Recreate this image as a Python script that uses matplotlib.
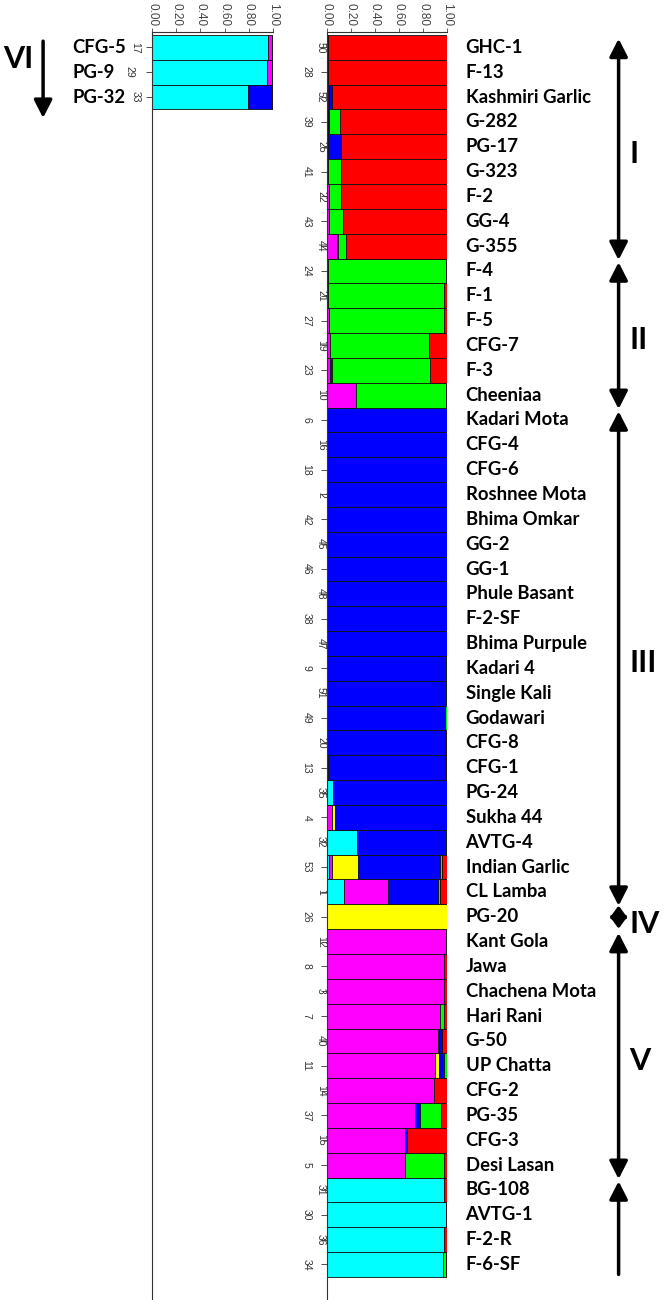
import matplotlib
matplotlib.use("Agg")
import matplotlib.pyplot as plt
import matplotlib.transforms as mtransforms

# cluster colours in STRUCTURE stacking order
CLUSTER_COLORS = ["#00FFFF", "#FF00FF", "#FFFF00", "#0000FF", "#00FF00", "#FF0000"]

# ---- right panel (50 accessions) ----
names_r = ["GHC-1", "F-13", "Kashmiri Garlic", "G-282", "PG-17", "G-323", "F-2", "GG-4", "G-355",
           "F-4", "F-1", "F-5", "CFG-7", "F-3", "Cheeniaa",
           "Kadari Mota", "CFG-4", "CFG-6", "Roshnee Mota", "Bhima Omkar", "GG-2", "GG-1",
           "Phule Basant", "F-2-SF", "Bhima Purpule", "Kadari 4", "Single Kali", "Godawari",
           "CFG-8", "CFG-1", "PG-24", "Sukha 44", "AVTG-4", "Indian Garlic", "CL Lamba",
           "PG-20",
           "Kant Gola", "Jawa", "Chachena Mota", "Hari Rani", "G-50", "UP Chatta", "CFG-2",
           "PG-35", "CFG-3", "Desi Lasan",
           "BG-108", "AVTG-1", "F-2-R", "F-6-SF"]
ids_r = [50, 28, 52, 39, 25, 41, 22, 43, 44,
         24, 21, 27, 19, 23, 10,
         6, 16, 18, 2, 42, 45, 46, 48, 38, 47, 9, 51, 49, 20, 13, 35, 4, 32, 53, 1,
         26,
         12, 8, 3, 7, 40, 11, 14, 37, 15, 5,
         31, 30, 36, 34]

cyan_r = [0, 0, 0.012, 0, 0, 0, 0, 0, 0,
          0, 0, 0, 0, 0, 0,
          0, 0, 0, 0, 0, 0, 0, 0, 0, 0, 0, 0, 0, 0, 0, 0.05, 0, 0.25, 0.017, 0.138,
          0,
          0, 0, 0, 0, 0, 0, 0, 0, 0, 0,
          0.978, 0.989, 0.978, 0.967]
magenta_r = [0.005, 0.005, 0.005, 0.01, 0.01, 0.008, 0.02, 0.02, 0.08,
             0.01, 0.005, 0.02, 0.027, 0.027, 0.243,
             0, 0, 0, 0, 0, 0, 0, 0, 0, 0, 0, 0, 0, 0, 0.008, 0, 0.044, 0, 0.023, 0.37,
             0,
             0.99, 0.978, 0.978, 0.94, 0.923, 0.90, 0.89, 0.735, 0.646, 0.652,
             0, 0, 0, 0]
yellow_r = [0, 0, 0, 0, 0, 0, 0, 0, 0,
            0, 0, 0, 0, 0, 0,
            0, 0, 0, 0, 0, 0, 0, 0, 0, 0, 0, 0, 0, 0, 0, 0, 0.022, 0, 0.22, 0,
            1.0,
            0, 0, 0, 0, 0.011, 0.034, 0, 0, 0, 0,
            0, 0, 0, 0]
blue_r = [0, 0, 0.022, 0.005, 0.105, 0, 0, 0, 0.01,
          0, 0, 0, 0, 0.013, 0,
          1.0, 1.0, 1.0, 1.0, 1.0, 1.0, 1.0, 1.0, 1.0, 1.0, 0.995, 0.99, 0.985, 0.99, 0.982,
          0.95, 0.934, 0.74, 0.68, 0.42,
          0,
          0.005, 0, 0, 0, 0.022, 0.044, 0, 0.044, 0.017, 0,
          0, 0.011, 0, 0]
green_r = [0, 0, 0, 0.095, 0, 0.112, 0.10, 0.11, 0.068,
           0.98, 0.967, 0.958, 0.823, 0.816, 0.747,
           0, 0, 0, 0, 0, 0, 0, 0, 0, 0, 0.005, 0.01, 0.015, 0, 0, 0, 0, 0.01, 0.015, 0.017,
           0,
           0, 0, 0, 0.038, 0, 0.022, 0, 0.171, 0, 0.326,
           0, 0, 0, 0.027]
red_r = [0.995, 0.995, 0.961, 0.89, 0.885, 0.88, 0.88, 0.87, 0.842,
         0.01, 0.028, 0.022, 0.15, 0.144, 0.01,
         0, 0, 0, 0, 0, 0, 0, 0, 0, 0, 0, 0, 0, 0.01, 0.01, 0, 0, 0, 0.045, 0.055,
         0,
         0.005, 0.022, 0.022, 0.022, 0.044, 0, 0.11, 0.05, 0.337, 0.022,
         0.022, 0, 0.022, 0.006]

# ---- left panel (group VI) ----
names_l = ["CFG-5", "PG-9", "PG-32"]
ids_l = [17, 29, 33]
cyan_l = [0.956, 0.95, 0.797]
magenta_l = [0.033, 0.039, 0]
yellow_l = [0, 0, 0]
blue_l = [0.011, 0.011, 0.192]
green_l = [0, 0, 0]
red_l = [0, 0, 0.011]

# groups on the right panel: (label, first bar, last bar)
groups = [("I", 0, 8), ("II", 9, 14), ("III", 15, 34), ("IV", 35, 35), ("V", 36, 45), ("", 46, 49)]

xticks = [0, 0.2, 0.4, 0.6, 0.8, 1.0]
xticklabels = ["0.00", "0.20", "0.40", "0.60", "0.80", "1.00"]

LABEL_FONT = "Lato"
YLIM = (50.43, -0.62)


def draw_structure(ax, ids, columns, near_off, far_off):
    n = len(ids)
    left = [0.0] * n
    for col, color in zip(columns, CLUSTER_COLORS):
        ax.barh(range(n), col, left=left, height=1.0, color=color,
                edgecolor="#111111", linewidth=0.6)
        left = [a + b for a, b in zip(left, col)]
    ax.set_xlim(0, 1)
    ax.set_ylim(*YLIM)
    ax.xaxis.tick_top()
    ax.set_xticks(xticks)
    ax.set_xticklabels(xticklabels, rotation=-90, fontsize=8.5, color="#444444",
                       family="Liberation Sans")
    ax.tick_params(axis="x", length=3, width=0.6, pad=1, colors="#444444")
    ax.set_yticks(range(n))
    ax.set_yticklabels([])
    ax.tick_params(axis="y", length=4, width=0.6, colors="#333333")
    for s in ["right", "bottom"]:
        ax.spines[s].set_visible(False)
    ax.spines["left"].set_linewidth(0.8)
    ax.spines["top"].set_linewidth(0.8)
    ax.spines["left"].set_color("#333333")
    ax.spines["top"].set_color("#333333")
    trans = mtransforms.blended_transform_factory(ax.transAxes, ax.transData)
    # sample numbers, staggered
    for i, sid in enumerate(ids):
        off = near_off if i % 2 == 0 else far_off
        ax.annotate(str(sid), xy=(0, i), xycoords=trans, xytext=(-off * 0.72, 0),
                    textcoords="offset points", rotation=-90, ha="center", va="center",
                    fontsize=7.5, family="Liberation Sans", color="#333333")
    return trans


def arrow(ax, trans, x, y_from, y_to, style, hl=0.49, hw=0.25):
    ax.annotate("", xy=(x, y_to), xytext=(x, y_from), xycoords=trans,
                arrowprops=dict(arrowstyle=f"{style},head_length={hl},head_width={hw}",
                                lw=2.5, color="black", mutation_scale=22,
                                shrinkA=0, shrinkB=0, joinstyle="round"))


fig = plt.figure(figsize=(6.64, 13), dpi=100)
ax_h = (1300 - 32) / 1300
ax_r = fig.add_axes([327 / 664, 0, 120 / 664, ax_h])
ax_l = fig.add_axes([152 / 664, 0, 121 / 664, ax_h])

tr_r = draw_structure(ax_r, ids_r, [cyan_r, magenta_r, yellow_r, blue_r, green_r, red_r], 6, 20.5)
tr_l = draw_structure(ax_l, ids_l, [cyan_l, magenta_l, yellow_l, blue_l, green_l, red_l], 16.5, 23)

# accession names
for i, name in enumerate(names_r):
    ax_r.text(1.155, i, name, transform=tr_r, ha="left", va="center",
              fontsize=13.3, fontweight="bold", family=LABEL_FONT)
for i, name in enumerate(names_l):
    ax_l.text(-0.66, i, name, transform=tr_l, ha="left", va="center",
              fontsize=13.3, fontweight="bold", family=LABEL_FONT)

# group arrows and roman numerals
arrow_x = 2.43
for label, first, last in groups:
    if label == "IV":
        arrow(ax_r, tr_r, arrow_x, first - 0.45, last + 0.48, "<|-|>", hl=0.3, hw=0.22)
    elif label:
        arrow(ax_r, tr_r, arrow_x, first - 0.5 + 0.15, last + 0.5 + 0.06, "<|-|>")
    else:
        arrow(ax_r, tr_r, arrow_x, last + 0.4, first - 0.5 + 0.15, "-|>")
    if label:
        ax_r.text(2.52, (first + last) / 2 + 0.3, label, transform=tr_r, ha="left",
                  va="center", fontsize=22, fontweight="bold", family=LABEL_FONT)

# group VI on the left
arrow(ax_l, tr_l, -0.90, -0.25, 2.84, "-|>")
ax_l.text(-1.23, 0.45, "VI", transform=tr_l, ha="left", va="center",
          fontsize=22, fontweight="bold", family=LABEL_FONT)

fig.savefig("out.png", dpi=100)
